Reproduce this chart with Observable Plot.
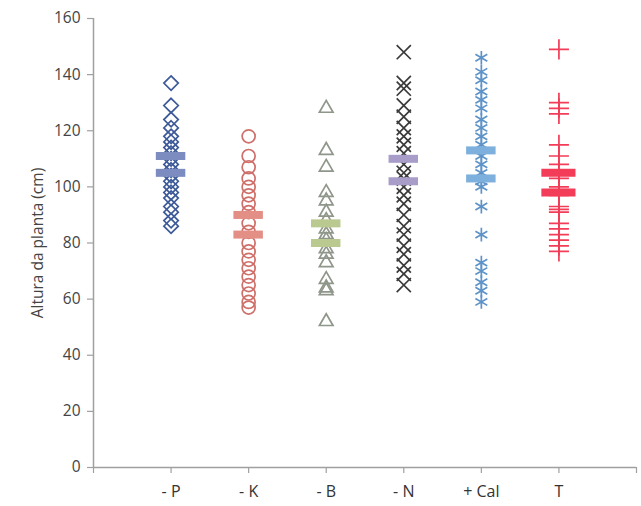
<!DOCTYPE html>
<html>
<head>
<meta charset="utf-8">
<script src="https://cdn.jsdelivr.net/npm/d3@7"></script>
<script src="https://cdn.jsdelivr.net/npm/@observablehq/plot@0.6"></script>
<style>
  html, body { margin: 0; padding: 0; background: #fff; }
  #chart svg { display: block; }
</style>
</head>
<body>
<div id="chart"></div>
<script>
const categories = ["- P", "- K", "- B", "- N", "+ Cal", "T"];
const yTicks = [0, 20, 40, 60, 80, 100, 120, 140, 160];

const valuesP = [137, 129, 124, 121, 118, 116, 114, 112, 110, 108, 106, 104, 102, 100, 98, 96, 93, 91, 88, 86];
const valuesK = [118, 111, 107, 103, 100, 97, 94, 91, 87, 84, 80, 77, 74, 71, 68, 65, 62, 59, 57];
const valuesB = [128, 113, 107, 98, 95, 91, 88, 85, 83, 81, 78, 76, 73, 67, 64, 63, 52];
const valuesN = [148, 137, 135, 129, 125, 121, 118, 115, 112, 108, 105, 103, 100, 97, 94, 90, 86, 83, 79, 76, 72, 69, 65];
const valuesCal = [146, 141, 138, 134, 131, 128, 124, 121, 118, 115, 111, 108, 105, 102, 100, 93, 83, 73, 70, 66, 63, 59];
const valuesT = [149, 130, 128, 126, 115, 111, 108, 105, 103, 100, 99, 97, 93, 92, 91, 87, 85, 83, 81, 79, 77];

const upperStat = [111, 90, 87, 110, 113, 105];
const lowerStat = [105, 83, 80, 102, 103, 98];

const seriesValues = [valuesP, valuesK, valuesB, valuesN, valuesCal, valuesT];
const symbols = ["diamond2", "circle", "triangle2", "times", "asterisk", "plus"];
const pointColors = ["#3d5a98", "#cf6f6a", "#8f968a", "#3a3a3a", "#5e93c8", "#f23c58"];
const barColors = ["#7d8cc0", "#e48f85", "#b9c98f", "#a89cc8", "#7db0dc", "#f23c58"];

const points = seriesValues.flatMap((vals, i) => vals.map(v => ({x: i + 1, y: v, s: symbols[i], c: pointColors[i]})));
const stats = categories.flatMap((c, i) => [
  {x: i + 1, y: upperStat[i], c: barColors[i], w: i === 5 ? 0.22 : 0.19},
  {x: i + 1, y: lowerStat[i], c: barColors[i], w: i === 5 ? 0.22 : 0.19}
]);

const font = "'Open Sans', 'DejaVu Sans', sans-serif";

const chart = Plot.plot({
  width: 641,
  height: 506,
  marginLeft: 93,
  marginRight: 5,
  marginTop: 18,
  marginBottom: 39,
  style: {fontFamily: font, fontSize: "15px", color: "#333", background: "#fff"},
  x: {type: "linear", domain: [0, categories.length + 1], axis: null},
  y: {domain: [0, 160], axis: null},
  symbol: {type: "identity"},
  color: {type: "identity"},
  marks: [
    Plot.ruleX([0], {stroke: "#a0a0a0", strokeWidth: 1.5}),
    Plot.ruleY([0], {stroke: "#a0a0a0", strokeWidth: 1.5}),
    Plot.axisY({ticks: yTicks, tickSize: 6, tickPadding: 7, stroke: "#a0a0a0", strokeWidth: 1.2, fontSize: 15.5, fill: "#444",
      label: "Altura da planta (cm)", labelAnchor: "center", labelArrow: "none", labelOffset: 62}),
    Plot.axisX({ticks: d3.range(0, categories.length + 2), tickSize: 6, tickPadding: 12, stroke: "#a0a0a0", strokeWidth: 1.2,
      fontSize: 16, fill: "#333", tickFormat: d => (d >= 1 && d <= categories.length) ? categories[d - 1] : "", label: null}),
    Plot.dot(points, {x: "x", y: "y", symbol: "s", stroke: "c", r: 6.5, strokeWidth: 1.7, fill: "none"}),
    Plot.ruleY(stats, {x1: d => d.x - d.w, x2: d => d.x + d.w, y: "y", stroke: "c", strokeWidth: 8})
  ]
});
document.getElementById("chart").appendChild(chart);
</script>
</body>
</html>
